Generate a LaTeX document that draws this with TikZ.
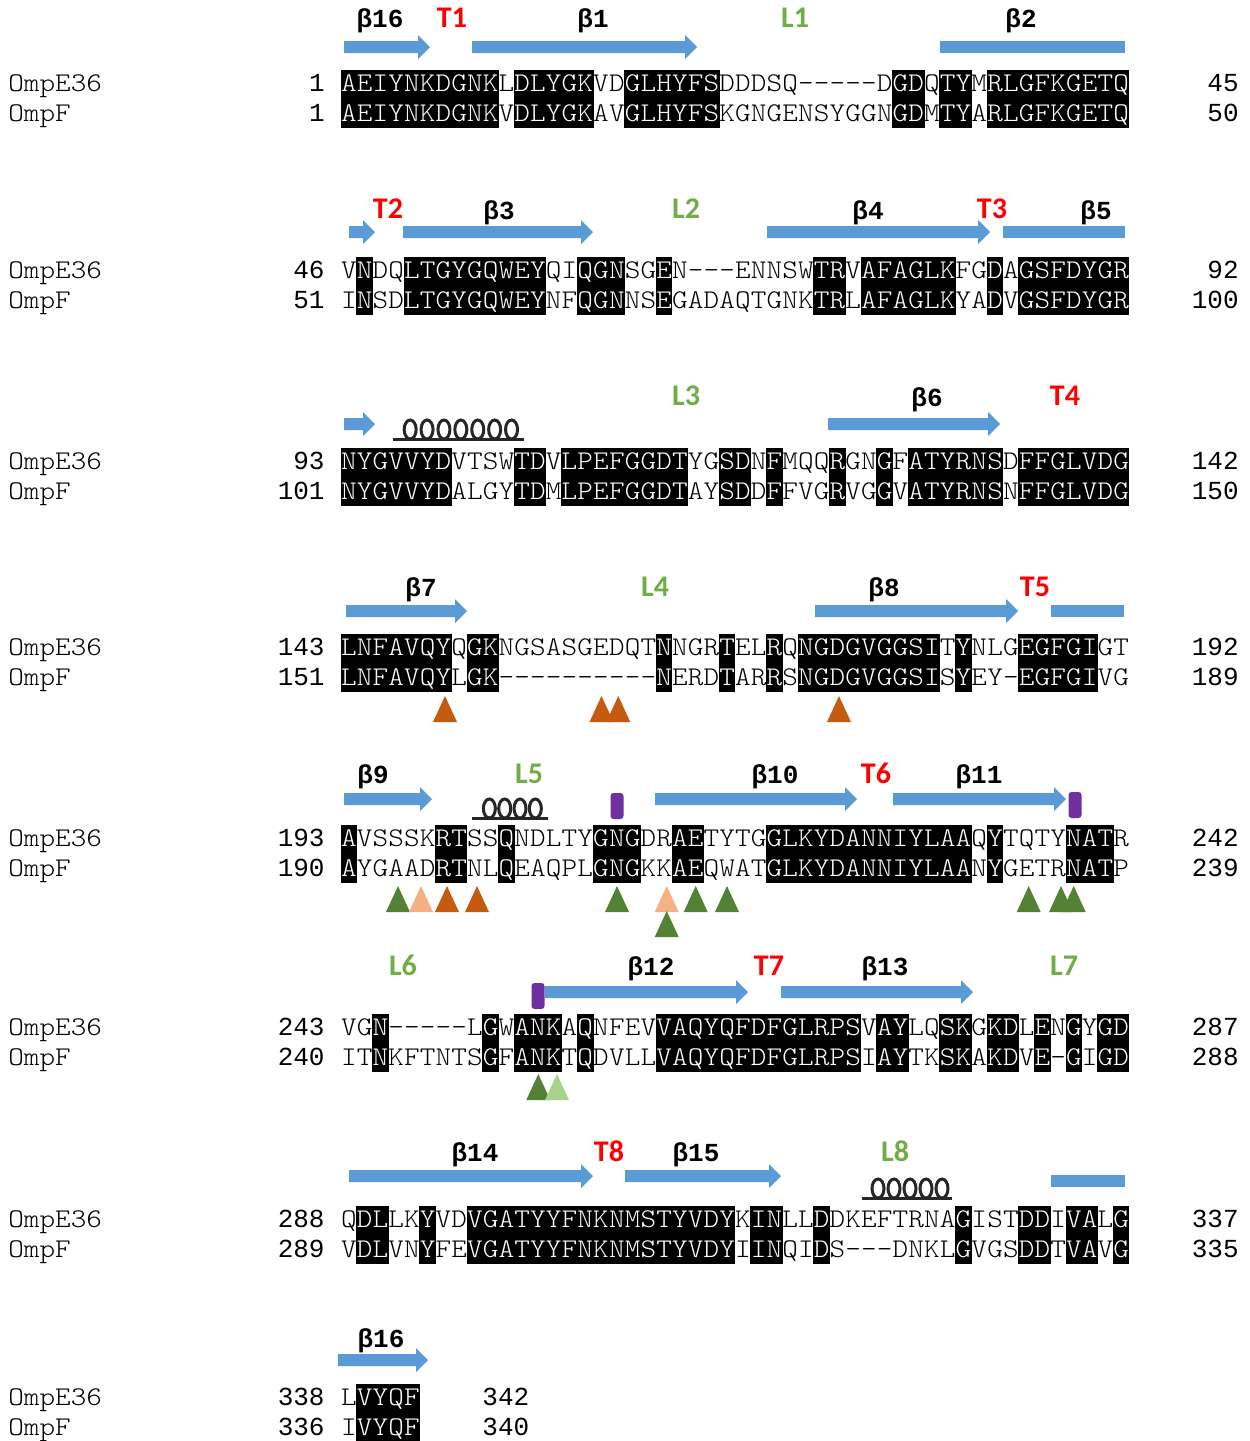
\documentclass[tikz,border=0pt]{standalone}
\usepackage{fontspec}
\newfontfamily\seqfont[FakeStretch=1.1]{lmmonolt10-regular.otf}
\newfontfamily\numfont{Liberation Mono}
\newfontfamily\tlfont{Carlito}
\definecolor{sblue}{HTML}{5B9BD5}
\definecolor{tred}{HTML}{FF0000}
\definecolor{lgreen}{HTML}{70AD47}
\definecolor{purp}{HTML}{7030A0}
\definecolor{dorange}{HTML}{C55A11}
\definecolor{lorange}{HTML}{F4B183}
\definecolor{dgreen}{HTML}{548235}
\definecolor{lgtri}{HTML}{A9D18E}
\tikzset{
  seqch/.style={font={\seqfont\fontsize{13.5}{13.5}\selectfont}, anchor=base, inner sep=0pt},
  namelab/.style={font={\seqfont\fontsize{13.5}{13.5}\selectfont}, anchor=base west, inner sep=0pt},
  numlab/.style={font={\numfont\fontsize{13}{13}\selectfont}, anchor=base east, inner sep=0pt},
  numlabw/.style={numlab, anchor=base west},
  betalab/.style={font={\numfont\bfseries\fontsize{13}{13}\selectfont}, anchor=base, inner sep=0pt},
  turnlab/.style={font={\tlfont\bfseries\fontsize{15}{15}\selectfont}, anchor=base, inner sep=0pt, text=tred},
  looplab/.style={font={\tlfont\bfseries\fontsize{15}{15}\selectfont}, anchor=base, inner sep=0pt, text=lgreen},
  helixline/.style={line width=1.5pt, black!85},
}

\ExplSyntaxOn
\tl_new:N \l_aln_a_tl
\tl_new:N \l_aln_b_tl
\tl_new:N \l_aln_x_tl
\tl_new:N \l_aln_y_tl
\clist_new:N \l_aln_skip_clist
\bool_new:N \l_aln_id_bool
\cs_new_protected:Npn \aln_test:n #1
  {
    \tl_set:Nx \l_aln_x_tl { \tl_item:Nn \l_aln_a_tl {#1} }
    \tl_set:Nx \l_aln_y_tl { \tl_item:Nn \l_aln_b_tl {#1} }
    \bool_set_false:N \l_aln_id_bool
    \tl_if_eq:NNT \l_aln_x_tl \l_aln_y_tl
      {
        \str_if_eq:VnF \l_aln_x_tl { - }
          {
            \clist_if_in:NnF \l_aln_skip_clist {#1}
              { \bool_set_true:N \l_aln_id_bool }
          }
      }
  }
\NewDocumentCommand \alnblock { m m m m m }
  {
    \tl_set:Nn \l_aln_a_tl {#3}
    \tl_set:Nn \l_aln_b_tl {#4}
    \clist_set:Nn \l_aln_skip_clist {#5}
    \int_step_inline:nn { \tl_count:N \l_aln_a_tl }
      {
        \aln_test:n {##1}
        \bool_if:NT \l_aln_id_bool { \alnbox {##1} {#1} {#2} }
      }
    \int_step_inline:nn { \tl_count:N \l_aln_a_tl }
      {
        \aln_test:n {##1}
        \bool_if:NTF \l_aln_id_bool
          { \alnchars {##1} {#1} {#2} {white} }
          { \alnchars {##1} {#1} {#2} {black} }
      }
  }
\cs_new:Npn \alnA { \l_aln_x_tl }
\cs_new:Npn \alnB { \l_aln_y_tl }
\ExplSyntaxOff

\newcommand\alnbox[3]{\fill[black] ({341+(#1-1)*15.76-0.4},{#2-21}) rectangle ({341+#1*15.76+0.4},{#3+7});}
\newcommand\alnchars[4]{%
  \node[seqch,text=#4] at ({341+(#1-0.5)*15.76},#2) {\alnA};%
  \node[seqch,text=#4] at ({341+(#1-0.5)*15.76},#3) {\alnB};}
\newcommand\blockframe[6]{%
  \node[namelab] at (8,#1) {OmpE36};
  \node[namelab] at (8,#2) {OmpF};
  \node[numlab] at (325,#1) {#3};
  \node[numlab] at (325,#2) {#4};
  \node[numlab] at (1239,#1) {#5};
  \node[numlab] at (1239,#2) {#6};}
\newcommand\strandarrow[3]{%
  \fill[sblue] (#1,{#3-6}) -- ({#2-12},{#3-6}) -- ({#2-12},{#3-12}) -- (#2,#3) -- ({#2-12},{#3+12}) -- ({#2-12},{#3+6}) -- (#1,{#3+6}) -- cycle;}
\newcommand\strandbar[3]{\fill[sblue] (#1,{#3-6}) rectangle (#2,{#3+6});}
\newcommand\mktri[3]{\fill[#3] ({#1-12},#2) -- ({#1+12},#2) -- (#1,{#2-26}) -- cycle;}
\newcommand\pbar[3]{\fill[purp, rounded corners=1.5pt] ({#1-6.5},#2) rectangle ({#1+6.5},#3);}
\newcommand\helixcoil[6]{%
  \draw[helixline] (#1,#6) -- (#2,#6);
  \foreach \kk in {1,...,#5} {
    \draw[helixline] ({#3+(\kk-0.5)*(#4-#3)/#5},{#6-9.5}) ellipse [x radius=6, y radius=9.5];
  }}

\begin{document}
\begin{tikzpicture}[x=0.5pt,y=-0.5pt]
\useasboundingbox (0,0) rectangle (1249,1441);
\fill[white] (0,0) rectangle (1249,1441);

% ---------------- block 1
\blockframe{91}{121}{1}{1}{45}{50}
\alnblock{91}{121}{AEIYNKDGNKLDLYGKVDGLHYFSDDDSQ-----DGDQTYMRLGFKGETQ}{AEIYNKDGNKVDLYGKAVGLHYFSKGNGENSYGGNGDMTYARLGFKGETQ}{}
\strandarrow{344}{430}{47}
\strandarrow{472}{697}{47}
\strandbar{940}{1125}{47}
\node[betalab] (b16a) at (380,27) {β16};
\node[turnlab] (t1) at (452,27) {T1};
\node[betalab] (b1) at (593,27) {β1};
\node[looplab] (l1) at (795,27) {L1};
\node[betalab] (b2) at (1021,27) {β2};

% ---------------- block 2
\blockframe{278}{308}{46}{51}{92}{100}
\alnblock{278}{308}{VNDQLTGYGQWEYQIQGNSGEN---ENNSWTRVAFAGLKFGDAGSFDYGR}{INSDLTGYGQWEYNFQGNNSEGADAQTGNKTRLAFAGLKYADVGSFDYGR}{}
\strandarrow{349}{375}{232}
\strandarrow{403}{593}{232}
\strandarrow{767}{990}{232}
\strandbar{1003}{1125}{232}
\node[turnlab] (t2) at (388,218) {T2};
\node[betalab] (b3) at (499,219) {β3};
\node[looplab] (l2) at (686,218) {L2};
\node[betalab] (b4) at (868,219) {β4};
\node[turnlab] (t3) at (992,218) {T3};
\node[betalab] (b5) at (1096,219) {β5};

% ---------------- block 3
\blockframe{469}{499}{93}{101}{142}{150}
\alnblock{469}{499}{NYGVVYDVTSWTDVLPEFGGDTYGSDNFMQQRGNGFATYRNSDFFGLVDG}{NYGVVYDALGYTDMLPEFGGDTAYSDDFFVGRVGGVATYRNSNFFGLVDG}{}
\strandarrow{344}{375}{424}
\helixcoil{393}{524}{401.7}{520}{7}{439}
\strandarrow{828}{1000}{424}
\node[looplab] (l3) at (686,405) {L3};
\node[betalab] (b6) at (927,406) {β6};
\node[turnlab] (t4) at (1065,405) {T4};

% ---------------- block 4
\blockframe{655}{685}{143}{151}{192}{189}
\alnblock{655}{685}{LNFAVQYQGKNGSASGEDQTNNGRTELRQNGDGVGGSITYNLGEGFGIGT}{LNFAVQYLGK----------NERDTARRSNGDGVGGSISYEY-EGFGIVG}{}
\strandarrow{346}{467}{611}
\strandarrow{815}{1018}{611}
\strandbar{1051}{1124}{611}
\node[betalab] (b7) at (421,596) {β7};
\node[looplab] (l4) at (655,596) {L4};
\node[betalab] (b8) at (884,596) {β8};
\node[turnlab] (t5) at (1035,596) {T5};
\mktri{445}{722}{dorange}
\mktri{601.5}{722}{dorange}
\mktri{618.3}{722}{dorange}
\mktri{839}{722}{dorange}

% ---------------- block 5
\blockframe{846}{876}{193}{190}{242}{239}
\alnblock{846}{876}{AVSSSKRTSSQNDLTYGNGDRAETYTGGLKYDANNIYLAAQYTQTYNATR}{AYGAADRTNLQEAQPLGNGKKAEQWATGLKYDANNIYLAANYGETRNATP}{45}
\strandarrow{344}{432}{799}
\helixcoil{471.7}{548}{481.7}{543}{4}{818}
\pbar{617}{793}{819}
\strandarrow{655}{857}{799}
\strandarrow{893}{1066}{799}
\pbar{1075}{792}{818}
\node[betalab] (b9) at (373,783) {β9};
\node[looplab] (l5) at (529,783) {L5};
\node[betalab] (b10) at (775,783) {β10};
\node[turnlab] (t6) at (876,783) {T6};
\node[betalab] (b11) at (979,783) {β11};
\mktri{398}{912}{dgreen}
\mktri{421}{912}{lorange}
\mktri{447}{912}{dorange}
\mktri{477}{912}{dorange}
\mktri{617}{912}{dgreen}
\mktri{666.7}{912}{lorange}
\mktri{695.7}{912}{dgreen}
\mktri{727}{912}{dgreen}
\mktri{666.7}{937}{dgreen}
\mktri{1028.7}{912}{dgreen}
\mktri{1061}{912}{dgreen}
\mktri{1073.7}{912}{dgreen}

% ---------------- block 6
\blockframe{1035}{1065}{243}{240}{287}{288}
\alnblock{1035}{1065}{VGN-----LGWANKAQNFEVVAQYQFDFGLRPSVAYLQSKGKDLENGYGD}{ITNKFTNTSGFANKTQDVLLVAQYQFDFGLRPSIAYTKSKAKDVE-GIGD}{}
\pbar{538}{983}{1009}
\strandarrow{545}{748}{992}
\strandarrow{781}{973}{992}
\node[looplab] (l6) at (403,975) {L6};
\node[betalab] (b12) at (651,975) {β12};
\node[turnlab] (t7) at (769,975) {T7};
\node[betalab] (b13) at (885,975) {β13};
\node[looplab] (l7) at (1064,975) {L7};
\mktri{538.3}{1100}{dgreen}
\mktri{557}{1100}{lgtri}

% ---------------- block 7
\blockframe{1227}{1257}{288}{289}{337}{335}
\alnblock{1227}{1257}{QDLLKYVDVGATYYFNKNMSTYVDYKINLLDDKEFTRNAGISTDDIVALG}{VDLVNYFEVGATYYFNKNMSTYVDYIINQIDS---DNKLGVGSDDTVAVG}{}
\strandarrow{349}{593}{1176}
\strandarrow{625}{781}{1176}
\helixcoil{862}{952}{870}{950}{5}{1198}
\strandbar{1051}{1125}{1181}
\node[betalab] (b14) at (475,1161) {β14};
\node[turnlab] (t8) at (609,1161) {T8};
\node[betalab] (b15) at (696,1161) {β15};
\node[looplab] (l8) at (895,1161) {L8};

% ---------------- block 8
\node[namelab] (n8a) at (8,1405) {OmpE36};
\node[namelab] (n8b) at (8,1435) {OmpF};
\node[numlab] (s8a) at (325,1405) {338};
\node[numlab] (s8b) at (325,1435) {336};
\node[numlabw] (e8a) at (482,1405) {342};
\node[numlabw] (e8b) at (482,1435) {340};
\alnblock{1405}{1435}{LVYQF}{IVYQF}{}
\strandarrow{338}{428}{1360}
\node[betalab] (b16b) at (381,1347) {β16};
\end{tikzpicture}
\end{document}
